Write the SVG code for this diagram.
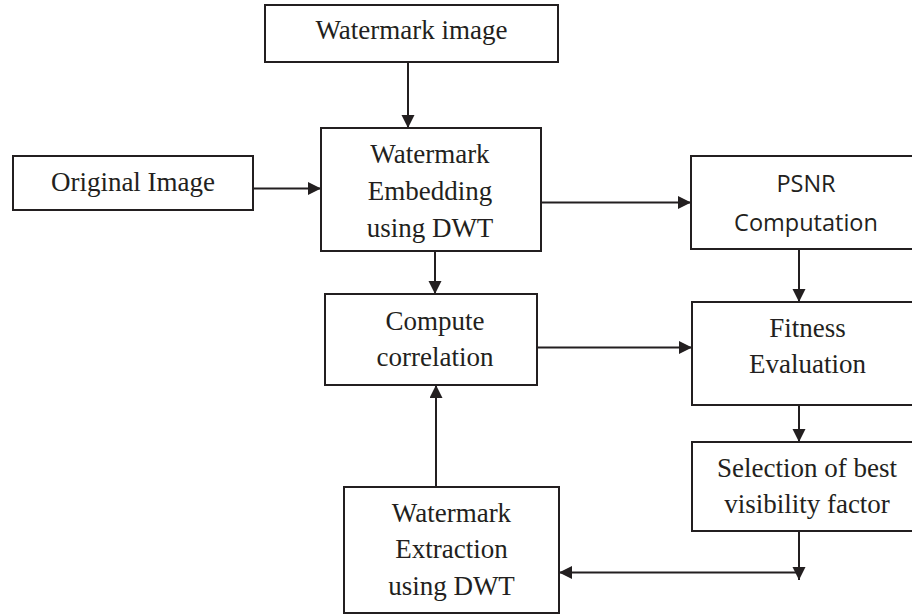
<svg xmlns="http://www.w3.org/2000/svg" width="912" height="615" viewBox="0 0 912 615">
<defs>
<marker id="arr" markerUnits="userSpaceOnUse" markerWidth="14" markerHeight="14" refX="13" refY="6.5" orient="auto">
<path d="M0,0 L13,6.5 L0,13 z" fill="#231f20"/>
</marker>
</defs>
<style>
.box{fill:#fff;stroke:#231f20;stroke-width:2}
.t{font-family:"Liberation Serif","Times New Roman",serif;font-size:27px;fill:#231f20;text-anchor:middle}
.s{font-family:"Open Sans","Noto Sans",sans-serif;font-size:23.5px;fill:#231f20;text-anchor:middle}
.c{stroke:#231f20;stroke-width:2;fill:none;marker-end:url(#arr)}
</style>
<rect width="912" height="615" fill="#fff"/>
<g id="connectors">
<line class="c" x1="408" y1="62" x2="408" y2="128"/>
<line class="c" x1="253" y1="188.5" x2="321" y2="188.5"/>
<line class="c" x1="541" y1="202.5" x2="691" y2="202.5"/>
<line class="c" x1="435" y1="251" x2="435" y2="294"/>
<line class="c" x1="537" y1="347.5" x2="692" y2="347.5"/>
<line class="c" x1="799" y1="249" x2="799" y2="302"/>
<line class="c" x1="799" y1="405" x2="799" y2="442"/>
<line class="c" x1="799" y1="531" x2="799" y2="580"/>
<line class="c" x1="799" y1="572.5" x2="559" y2="572.5"/>
<line class="c" x1="436" y1="487" x2="436" y2="385"/>
</g>
<g id="watermark-image">
<rect class="box" x="265" y="5" width="293" height="57"/>
<text class="t" x="411.5" y="39">Watermark image</text>
</g>
<g id="original-image">
<rect class="box" x="13" y="156" width="240" height="54"/>
<text class="t" x="133" y="190.5">Original Image</text>
</g>
<g id="embedding">
<rect class="box" x="321" y="128" width="220" height="123"/>
<text class="t" x="430" y="163">Watermark</text>
<text class="t" x="430" y="200">Embedding</text>
<text class="t" x="430" y="237">using DWT</text>
</g>
<g id="psnr">
<rect class="box" x="691" y="156" width="240" height="93"/>
<text class="s" x="806" y="191.5">PSNR</text>
<text class="s" x="806" y="231">Computation</text>
</g>
<g id="compute-correlation">
<rect class="box" x="325" y="294" width="212" height="91"/>
<text class="t" x="435" y="330">Compute</text>
<text class="t" x="435" y="366">correlation</text>
</g>
<g id="fitness">
<rect class="box" x="692" y="302" width="240" height="103"/>
<text class="t" x="807.5" y="336.5">Fitness</text>
<text class="t" x="807.5" y="373">Evaluation</text>
</g>
<g id="selection">
<rect class="box" x="692" y="442" width="240" height="89"/>
<text class="t" x="807" y="476.5">Selection of best</text>
<text class="t" x="807" y="513">visibility factor</text>
</g>
<g id="extraction">
<rect class="box" x="344" y="487" width="215" height="126"/>
<text class="t" x="451.5" y="521.5">Watermark</text>
<text class="t" x="451.5" y="558">Extraction</text>
<text class="t" x="451.5" y="595">using DWT</text>
</g>
</svg>
